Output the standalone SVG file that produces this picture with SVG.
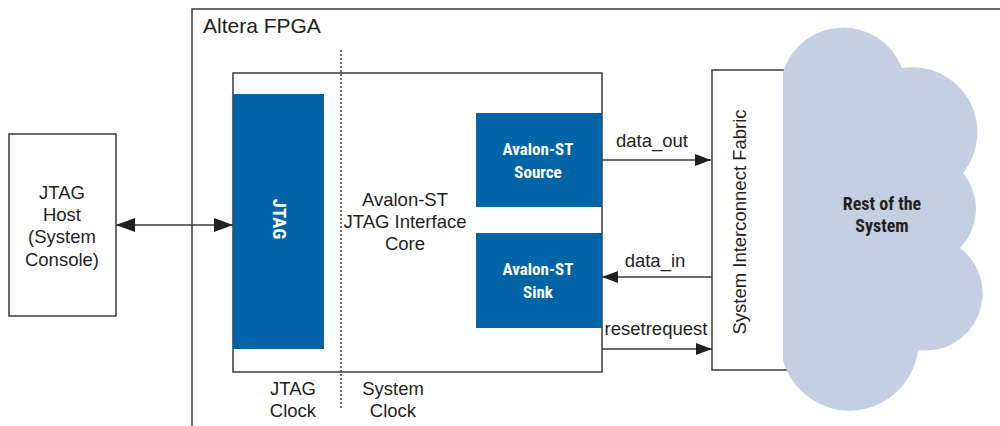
<svg xmlns="http://www.w3.org/2000/svg" width="1000" height="426" viewBox="0 0 1000 426">
<style>
.ln{fill:none;stroke:#3a3a3a;stroke-width:1.5}
.box{fill:#fff;stroke:#3a3a3a;stroke-width:1.5}
.blue{fill:#0064a6}
.t{font-family:"Liberation Sans",Arial,sans-serif;font-size:18.5px;fill:#231f20;text-anchor:middle}
.b{font-family:"Liberation Sans Narrow","Roboto Condensed","Liberation Sans",sans-serif;font-weight:bold;font-size:17px;text-anchor:middle}
.w{fill:#fff}
.k{fill:#231f20}
</style>
<defs>
<marker id="ah" viewBox="0 0 16 12" refX="16" refY="6" markerWidth="16" markerHeight="12" markerUnits="userSpaceOnUse" orient="auto-start-reverse">
<path d="M0,0 L16,6 L0,12 Z" fill="#231f20"/>
</marker>
<marker id="ah2" viewBox="0 0 19 14" refX="19" refY="7" markerWidth="19" markerHeight="14" markerUnits="userSpaceOnUse" orient="auto-start-reverse">
<path d="M0,0 L19,7 L0,14 Z" fill="#231f20"/>
</marker>
</defs>
<rect width="1000" height="426" fill="#fff"/>
<g id="fpga">
<path class="ln" d="M192,426 V9 H1000"/>
<text class="t" x="203" y="33" style="text-anchor:start;font-size:21px">Altera FPGA</text>
</g>
<g id="host">
<rect class="box" x="9" y="134" width="107" height="182"/>
<text class="t" x="62" y="199">JTAG</text>
<text class="t" x="62" y="221">Host</text>
<text class="t" x="62" y="243">(System</text>
<text class="t" x="62" y="266">Console)</text>
</g>
<g id="core">
<rect class="box" x="233" y="73" width="369" height="299"/>
<text class="t" x="405" y="206">Avalon-ST</text>
<text class="t" x="405" y="228">JTAG Interface</text>
<text class="t" x="405" y="250">Core</text>
</g>
<g id="clock-divider">
<line x1="341" y1="50" x2="341" y2="410" stroke="#3a3a3a" stroke-width="1.5" stroke-dasharray="2,2"/>
<text class="t" x="293" y="395">JTAG</text>
<text class="t" x="293" y="417">Clock</text>
<text class="t" x="393" y="395">System</text>
<text class="t" x="393" y="417">Clock</text>
</g>
<g id="jtag">
<rect class="blue" x="233" y="94" width="91" height="255"/>
<text class="b w" transform="translate(273,219) rotate(90)" y="0" style="font-size:19px">JTAG</text>
</g>
<g id="source">
<rect class="blue" x="476" y="113" width="126" height="94"/>
<text class="b w" x="538" y="155">Avalon-ST</text>
<text class="b w" x="538" y="178">Source</text>
</g>
<g id="sink">
<rect class="blue" x="476" y="233" width="126" height="95"/>
<text class="b w" x="538" y="275">Avalon-ST</text>
<text class="b w" x="538" y="298">Sink</text>
</g>
<g id="fabric">
<rect class="box" x="712" y="70" width="90" height="300"/>
<text class="t" transform="translate(746,222) rotate(-90)">System Interconnect Fabric</text>
</g>
<g id="rest">
<path fill="#c5cfe2" d="M783,72 A63,63 0 0 1 902,68 A65,65 0 0 1 963,173 A56,56 0 0 1 960,248 A57,57 0 0 1 918,350 A69,69 0 0 1 783,360 Z"/>
<text class="b k" x="882" y="210" style="font-size:18px">Rest of the</text>
<text class="b k" x="882" y="232" style="font-size:18px">System</text>
</g>
<g id="connectors">
<line class="ln" x1="116" y1="225" x2="233" y2="225" marker-start="url(#ah2)" marker-end="url(#ah2)"/>
<line class="ln" x1="602" y1="160" x2="711" y2="160" marker-end="url(#ah)"/>
<line class="ln" x1="712" y1="277" x2="602" y2="277" marker-end="url(#ah)"/>
<line class="ln" x1="602" y1="349" x2="712" y2="349" marker-end="url(#ah)"/>
<text class="t" x="652" y="147">data_out</text>
<text class="t" x="655" y="267">data_in</text>
<text class="t" x="656" y="335">resetrequest</text>
</g>
</svg>
